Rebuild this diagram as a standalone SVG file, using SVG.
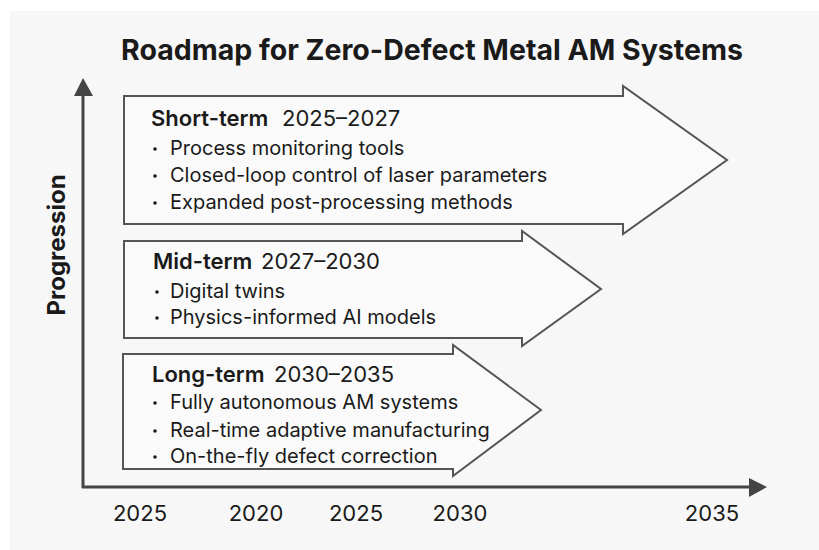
<svg xmlns="http://www.w3.org/2000/svg" width="819" height="550" viewBox="0 0 819 550">
<defs>
<style>
.arrow{fill:#fafafa;stroke:#555;stroke-width:2;stroke-linejoin:miter}
.head{font-family:Inter,"Liberation Sans",sans-serif;font-size:22px;fill:#1a1a1a}
.b{font-weight:600}
.item{font-family:Inter,"Liberation Sans",sans-serif;font-size:20px;fill:#1a1a1a}
.dot{fill:#1a1a1a}
.tick{font-family:Inter,"Liberation Sans",sans-serif;font-size:22px;fill:#1a1a1a;text-anchor:middle}
.axis{stroke:#444;stroke-width:3;fill:none}
</style>
</defs>
<rect x="0" y="0" width="819" height="550" fill="#ffffff"/>
<rect x="10" y="11" width="809" height="539" fill="#f7f7f7"/>
<text x="432" y="60" text-anchor="middle" font-family="Inter,'Liberation Sans',sans-serif" font-size="28.5" font-weight="700" fill="#1a1a1a">Roadmap for Zero-Defect Metal AM Systems</text>
<g id="axes">
<line class="axis" x1="83" y1="488" x2="83" y2="92"/>
<polygon points="83,78 74,96 93,96" fill="#444"/>
<line class="axis" x1="82" y1="487" x2="752" y2="487"/>
<polygon points="767,487 749,478 749,497" fill="#444"/>
</g>
<text transform="translate(65,245) rotate(-90)" text-anchor="middle" font-family="Inter,'Liberation Sans',sans-serif" font-size="24" font-weight="700" fill="#1a1a1a">Progression</text>
<g id="short-term">
<polygon class="arrow" points="124,96 623,96 623,86 727,160 623,234 623,224 124,224"/>
<text class="head" x="151" y="126"><tspan class="b">Short-term</tspan><tspan x="282">2025–2027</tspan></text>
<circle class="dot" cx="155" cy="149" r="1.8"/><text class="item" x="170" y="155">Process monitoring tools</text>
<circle class="dot" cx="155" cy="176" r="1.8"/><text class="item" x="170" y="182">Closed-loop control of laser parameters</text>
<circle class="dot" cx="155" cy="203" r="1.8"/><text class="item" x="170" y="209">Expanded post-processing methods</text>
</g>
<g id="mid-term">
<polygon class="arrow" points="124,241 522,241 522,231 601,289 522,346 522,338 124,338"/>
<text class="head" x="153" y="269"><tspan class="b">Mid-term</tspan><tspan x="261">2027–2030</tspan></text>
<circle class="dot" cx="157" cy="292" r="1.8"/><text class="item" x="170" y="298">Digital twins</text>
<circle class="dot" cx="157" cy="318" r="1.8"/><text class="item" x="170" y="324">Physics-informed AI models</text>
</g>
<g id="long-term">
<polygon class="arrow" points="123,354 453,354 453,345 541,410 453,476 453,469 123,469"/>
<text class="head" x="152" y="382"><tspan class="b">Long-term</tspan><tspan x="274">2030–2035</tspan></text>
<circle class="dot" cx="155" cy="403" r="1.8"/><text class="item" x="170" y="409">Fully autonomous AM systems</text>
<circle class="dot" cx="155" cy="431" r="1.8"/><text class="item" x="170" y="437">Real-time adaptive manufacturing</text>
<circle class="dot" cx="155" cy="457" r="1.8"/><text class="item" x="170" y="463">On-the-fly defect correction</text>
</g>
<g id="ticks">
<text class="tick" x="140" y="521">2025</text>
<text class="tick" x="256" y="521">2020</text>
<text class="tick" x="356" y="521">2025</text>
<text class="tick" x="460" y="521">2030</text>
<text class="tick" x="712" y="521">2035</text>
</g>
</svg>
